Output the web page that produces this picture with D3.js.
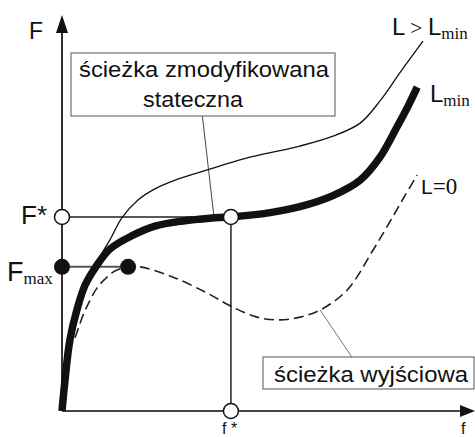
<!DOCTYPE html>
<html><head><meta charset="utf-8">
<script src="https://cdn.jsdelivr.net/npm/d3@7"></script>
<style>html,body{margin:0;padding:0;background:#fff}svg{display:block}</style>
</head><body>
<svg id="c" width="475" height="437"></svg>
<script>
// data (f, F) in chart units
const curveLmin = [[0,0],[0.073,0.78],[0.19,1.79],[0.36,2.55],[0.56,3.18],[0.82,3.64],[1.16,4.09],[1.72,4.44],[2.25,4.67],[2.93,4.80],[3.58,4.87],[4.09,4.90],[5.04,5.01],[5.76,5.16],[6.56,5.44],[7.22,5.83],[7.70,6.41],[8.11,7.17],[8.38,7.70],[8.60,8.18]];
const curveLgt = [[0,0],[0.073,0.78],[0.19,1.79],[0.36,2.55],[0.56,3.18],[0.82,3.69],[0.97,3.99],[1.16,4.32],[1.45,4.88],[1.84,5.33],[2.25,5.61],[2.74,5.83],[3.34,6.03],[4.55,6.41],[5.76,6.69],[6.56,6.94],[7.22,7.27],[7.70,7.83],[8.18,8.54],[8.74,9.34]];
const curveL0 = [[0,0],[0.073,0.78],[0.19,1.55],[0.34,1.92],[0.51,2.42],[0.68,2.80],[0.85,3.11],[1.04,3.33],[1.29,3.54],[1.60,3.64],[1.89,3.64],[2.69,3.38],[3.51,2.98],[4.12,2.63],[4.72,2.37],[5.28,2.30],[5.76,2.37],[6.25,2.55],[6.90,3.05],[7.53,4.06],[7.99,4.87],[8.31,5.45],[8.60,5.96]];
const fStar = 4.09, FStar = 4.90;
const fMaxPt = 1.60, FMax = 3.64;
const boxText1 = ["ścieżka zmodyfikowana", "stateczna"];
const boxText2 = "ścieżka wyjściowa";
const leader1 = [[3.40, 7.44], [3.68, 4.90]];
const leader2 = [[7.02, 1.36], [6.25, 2.55]];

const svg = d3.select("#c");
const x = d3.scaleLinear().domain([0,10]).range([62,475]);
const y = d3.scaleLinear().domain([0,10]).range([411,15]);
const line = d3.line().x(d=>x(d[0])).y(d=>y(d[1])).curve(d3.curveCatmullRom.alpha(0.5));
const seg = d3.line().x(d=>x(d[0])).y(d=>y(d[1]));

// axes
svg.append("line").attr("x1",x(0)).attr("y1",y(0)).attr("x2",x(0)).attr("y2",30).attr("stroke","#333").attr("stroke-width",2);
svg.append("line").attr("x1",x(0)).attr("y1",y(0)).attr("x2",462).attr("y2",y(0)).attr("stroke","#444").attr("stroke-width",2);
svg.append("path").attr("d",`M${x(0)},15 L${x(0)-6},33 L${x(0)+6},33 Z`).attr("fill","#111");
svg.append("path").attr("d",`M475,${y(0)} L460,${y(0)-6} L460,${y(0)+6} Z`).attr("fill","#111");

// guide lines
svg.append("path").attr("d",seg([[0,FStar],[fStar,FStar],[fStar,0]])).attr("fill","none").attr("stroke","#222").attr("stroke-width",1.5);
svg.append("path").attr("d",seg([[0,FMax],[fMaxPt,FMax]])).attr("fill","none").attr("stroke","#555").attr("stroke-width",2);

// leader lines
svg.append("path").attr("d",seg(leader1)).attr("stroke","#444").attr("stroke-width",1).attr("fill","none");
svg.append("path").attr("d",seg(leader2)).attr("stroke","#777").attr("stroke-width",1).attr("fill","none");

// curves
svg.append("path").attr("d",line(curveL0)).attr("fill","none").attr("stroke","#222").attr("stroke-width",1.6).attr("stroke-dasharray","10,5");
svg.append("path").attr("d",line(curveLgt)).attr("fill","none").attr("stroke","#111").attr("stroke-width",1.3);
svg.append("path").attr("d",line(curveLmin)).attr("fill","none").attr("stroke","#111").attr("stroke-width",7.5);

// points
const open = [[0,FStar],[fStar,FStar],[fStar,0]];
svg.selectAll(".o").data(open).enter().append("circle").attr("cx",d=>x(d[0])).attr("cy",d=>y(d[1])).attr("r",7.5).attr("fill","#fff").attr("stroke","#111").attr("stroke-width",1.5);
const filled = [[0,FMax],[fMaxPt,FMax]];
svg.selectAll(".f").data(filled).enter().append("circle").attr("cx",d=>x(d[0])).attr("cy",d=>y(d[1])).attr("r",8).attr("fill","#111");

// boxes
const sans = "Liberation Sans, Arial, sans-serif", serif = "Liberation Serif, Times New Roman, serif";
svg.append("rect").attr("x",71).attr("y",53).attr("width",264).attr("height",63).attr("fill","#fff").attr("stroke","#555").attr("stroke-width",1);
svg.append("text").attr("x",79).attr("y",77).attr("font-family",sans).attr("font-size",22).attr("fill","#111").attr("textLength",250).attr("lengthAdjust","spacingAndGlyphs").text(boxText1[0]);
svg.append("text").attr("x",143).attr("y",107).attr("font-family",sans).attr("font-size",22).attr("fill","#111").attr("textLength",100).attr("lengthAdjust","spacingAndGlyphs").text(boxText1[1]);
svg.append("rect").attr("x",263).attr("y",357).attr("width",211).attr("height",32).attr("fill","#fff").attr("stroke","#555").attr("stroke-width",1);
svg.append("text").attr("x",274).attr("y",382).attr("font-family",sans).attr("font-size",22).attr("fill","#111").attr("textLength",194).attr("lengthAdjust","spacingAndGlyphs").text(boxText2);

// axis labels
svg.append("text").attr("x",29).attr("y",39).attr("font-family",sans).attr("font-size",23).attr("fill","#111").text("F");
svg.append("text").attr("x",21).attr("y",224).attr("font-family",sans).attr("font-size",26).attr("fill","#111").text("F*");
const fm = svg.append("text").attr("x",7).attr("y",281).attr("font-family",sans).attr("font-size",27).attr("fill","#111");
fm.append("tspan").text("F");
fm.append("tspan").attr("font-family",serif).attr("font-size",17).attr("dy",3).text("max");
svg.append("text").attr("x",222).attr("y",434).attr("font-family",sans).attr("font-size",16).attr("fill","#111").text("f *");
svg.append("text").attr("x",461).attr("y",434).attr("font-family",sans).attr("font-size",16).attr("fill","#111").text("f");

// curve labels
const t1 = svg.append("text").attr("y",35).attr("font-family",sans).attr("font-size",24).attr("fill","#111");
t1.append("tspan").attr("x",392).text("L");
t1.append("tspan").attr("x",410).attr("font-family",serif).attr("font-size",22).text(">");
t1.append("tspan").attr("x",428).text("L");
t1.append("tspan").attr("font-family",serif).attr("font-size",17).attr("dy",4).text("min");
const t2 = svg.append("text").attr("x",430).attr("y",102).attr("font-family",sans).attr("font-size",24).attr("fill","#111");
t2.append("tspan").text("L");
t2.append("tspan").attr("font-family",serif).attr("font-size",17).attr("dy",4).text("min");
const t3 = svg.append("text").attr("x",421).attr("y",194).attr("font-family",sans).attr("font-size",21).attr("fill","#111");
t3.append("tspan").text("L");
t3.append("tspan").attr("font-family",serif).attr("font-size",23).text("=0");
</script>
</body></html>
